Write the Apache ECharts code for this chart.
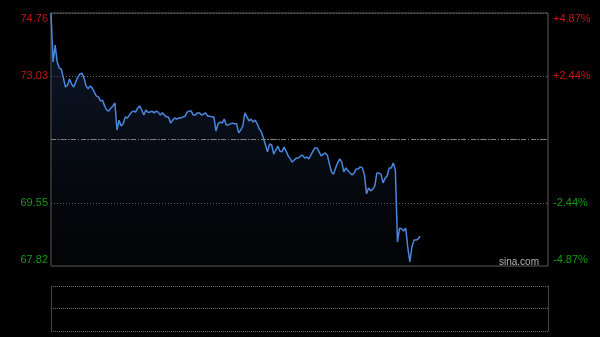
<!DOCTYPE html>
<html><head><meta charset="utf-8">
<script src="https://cdn.jsdelivr.net/npm/echarts@6/dist/echarts.min.js"></script>
<style>html,body{margin:0;padding:0;background:#000;}#c{width:600px;height:337px;}</style>
</head><body><div id="c"></div>
<script>
const prevClose = 71.29;
const priceTicks = [67.82, 69.55, 71.29, 73.03, 74.76];
const priceLabels = ['67.82', '69.55', '', '73.03', '74.76'];
const pctLabels = ['-4.87%', '-2.44%', '', '+2.44%', '+4.87%'];
const watermark = 'sina.com';
const prices = [
  74.76, 73.42, 73.88, 73.42, 73.25, 73.22, 72.98, 72.73, 72.78, 72.95,
  72.81, 72.73, 72.87, 73.00, 73.09, 73.11, 72.98, 72.76, 72.68, 72.76,
  72.70, 72.59, 72.48, 72.46, 72.35, 72.37, 72.21, 72.10, 72.07, 72.15,
  72.21, 72.29, 71.55, 71.82, 71.66, 71.72, 71.91, 71.88, 71.96, 72.04,
  72.07, 72.04, 72.15, 72.21, 72.10, 71.96, 72.10, 72.04, 72.04, 72.07,
  72.02, 72.07, 72.04, 71.96, 72.02, 71.96, 71.91, 71.91, 71.74, 71.82,
  71.88, 71.85, 71.88, 71.88, 71.91, 71.93, 72.04, 72.07, 72.07, 71.96,
  71.96, 72.02, 72.02, 71.96, 71.99, 72.02, 71.93, 71.93, 71.91, 71.91,
  71.52, 71.72, 71.77, 71.74, 71.85, 71.69, 71.69, 71.72, 71.74, 71.72,
  71.72, 71.47, 71.55, 71.66, 72.02, 71.91, 71.80, 71.85, 71.77, 71.82,
  71.72, 71.58, 71.50, 71.33, 71.14, 70.95, 71.17, 71.14, 70.89, 71.00,
  71.11, 70.97, 70.95, 71.08, 70.97, 70.84, 70.76, 70.67, 70.73, 70.78,
  70.78, 70.84, 70.86, 70.78, 70.81, 70.76, 70.86, 70.97, 71.06, 71.06,
  70.95, 70.84, 70.89, 70.92, 70.86, 70.62, 70.40, 70.34, 70.51, 70.65,
  70.76, 70.67, 70.40, 70.51, 70.43, 70.37, 70.32, 70.37, 70.48, 70.48,
  70.54, 70.51, 70.32, 69.80, 69.96, 69.88, 69.93, 70.01, 70.37, 70.37,
  70.34, 70.10, 70.23, 70.29, 70.51, 70.51, 70.65, 70.45, 68.48, 68.86,
  68.84, 68.78, 68.86, 68.34, 67.93, 68.34, 68.53, 68.53, 68.56, 68.64
];

const times = [];
function addSession(h0, m0, h1, m1) {
  for (let t = h0 * 60 + m0; t <= h1 * 60 + m1; t++) {
    times.push(String(Math.floor(t / 60)).padStart(2, '0') + ':' + String(t % 60).padStart(2, '0'));
  }
}
addSession(9, 30, 11, 30);
addSession(13, 0, 15, 0);

function tickIndex(v) {
  let best = 0;
  for (let i = 1; i < priceTicks.length; i++) {
    if (Math.abs(priceTicks[i] - v) < Math.abs(priceTicks[best] - v)) best = i;
  }
  return best;
}
function styleName(k) {
  if (k === 4) return 'upTop';
  if (k === 3) return 'up';
  if (k === 1) return 'dn';
  if (k === 0) return 'dnBot';
  return 'up';
}
const FONT = 'Liberation Sans, Arial, sans-serif';
const RED = '#c8150f';
const GREEN = '#139a13';
const rich = {
  upTop: { color: RED, fontSize: 11, fontFamily: FONT, padding: [11, 0, 0, 0] },
  up: { color: RED, fontSize: 11, fontFamily: FONT },
  dn: { color: GREEN, fontSize: 11, fontFamily: FONT },
  dnBot: { color: GREEN, fontSize: 11, fontFamily: FONT, padding: [0, 0, 12, 0] }
};

const chart = echarts.init(document.getElementById('c'), null, { renderer: 'canvas' });
const yMin = priceTicks[0], yMax = priceTicks[priceTicks.length - 1];
const yInt = (yMax - yMin) / (priceTicks.length - 1);

chart.setOption({
  backgroundColor: '#000',
  animation: false,
  grid: [
    { left: 51, top: 13, width: 497, height: 253, show: true, borderColor: '#5a5a5a', borderWidth: 1, backgroundColor: 'transparent' },
    { left: 51, top: 286, width: 497, height: 45, show: false }
  ],
  xAxis: [
    { type: 'category', gridIndex: 0, data: times, boundaryGap: false,
      axisLine: { show: false }, axisTick: { show: false }, axisLabel: { show: false }, splitLine: { show: false } },
    { type: 'category', gridIndex: 1, data: times, boundaryGap: false,
      axisLine: { show: false }, axisTick: { show: false }, axisLabel: { show: false }, splitLine: { show: false } }
  ],
  yAxis: [
    { type: 'value', gridIndex: 0, position: 'left', min: yMin, max: yMax, interval: yInt,
      axisLine: { show: false }, axisTick: { show: false },
      splitLine: { show: true, showMinLine: false, showMaxLine: false, lineStyle: { color: '#6a6a6a', type: [1, 2], width: 1 } },
      axisLabel: { margin: 3, rich: rich, formatter: function (v) { const k = tickIndex(v); return priceLabels[k] ? '{' + styleName(k) + '|' + priceLabels[k] + '}' : ''; } } },
    { type: 'value', gridIndex: 0, position: 'right', min: yMin, max: yMax, interval: yInt,
      axisLine: { show: false }, axisTick: { show: false }, splitLine: { show: false },
      axisLabel: { margin: 5, rich: rich, formatter: function (v) { const k = tickIndex(v); return pctLabels[k] ? '{' + styleName(k) + '|' + pctLabels[k] + '}' : ''; } } },
    { type: 'value', gridIndex: 1, position: 'left', min: 0, max: 2, interval: 1,
      axisLine: { show: true, lineStyle: { color: '#444', width: 1 } }, axisTick: { show: false }, axisLabel: { show: false },
      splitLine: { show: true, lineStyle: { color: '#6a6a6a', type: [1, 1], width: 1 } } },
    { type: 'value', gridIndex: 1, position: 'right', min: 0, max: 2, interval: 1,
      axisLine: { show: true, lineStyle: { color: '#444', width: 1 } }, axisTick: { show: false }, axisLabel: { show: false },
      splitLine: { show: false } }
  ],
  series: [
    { type: 'line', xAxisIndex: 0, yAxisIndex: 0, data: prices, symbol: 'none', showSymbol: false,
      lineStyle: { color: '#4a86dc', width: 1.5 },
      areaStyle: { color: new echarts.graphic.LinearGradient(0, 0, 0, 1, [
        { offset: 0, color: 'rgba(40,70,125,0.55)' },
        { offset: 1, color: 'rgba(20,30,50,0.15)' }
      ]) },
      markLine: { silent: true, symbol: ['none', 'none'], label: { show: false },
        lineStyle: { color: '#808080', type: [5, 2, 1, 2], width: 1 },
        data: [{ yAxis: prevClose }] } },
    { type: 'line', xAxisIndex: 1, yAxisIndex: 2, data: [], symbol: 'none' }
  ],
  graphic: [
    { type: 'text', left: 499, top: 257, style: { text: watermark, fill: '#b4b4b4', font: '10px ' + FONT } }
  ]
});
</script>
</body></html>
